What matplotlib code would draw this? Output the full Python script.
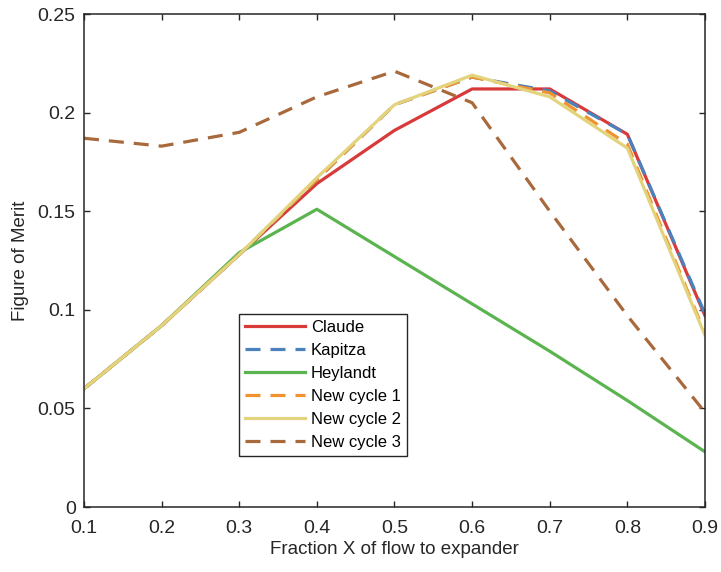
import numpy as np
import matplotlib
matplotlib.use("Agg")
import matplotlib.pyplot as plt

# fraction of flow sent to the expander
x = [0.1, 0.2, 0.3, 0.4, 0.5, 0.6, 0.7, 0.8, 0.9]

claude = [0.060, 0.092, 0.128, 0.164, 0.191, 0.212, 0.212, 0.189, 0.097]
kapitza = [0.060, 0.092, 0.128, 0.166, 0.204, 0.218, 0.211, 0.189, 0.098]
heylandt = [0.060, 0.092, 0.129, 0.151, 0.127, 0.103, 0.079, 0.054, 0.028]
new_cycle1 = [0.060, 0.092, 0.128, 0.166, 0.204, 0.218, 0.210, 0.184, 0.088]
new_cycle2 = [0.060, 0.092, 0.128, 0.167, 0.204, 0.219, 0.208, 0.182, 0.087]
new_cycle3 = [0.187, 0.183, 0.190, 0.208, 0.221, 0.205, 0.150, 0.097, 0.048]

labels = ["Claude", "Kapitza", "Heylandt", "New cycle 1", "New cycle 2", "New cycle 3"]

plt.rcParams['font.family'] = ['Liberation Sans', 'DejaVu Sans']

fig = plt.figure(figsize=(7.21, 5.72), dpi=100)
ax = fig.add_axes([0.1165, 0.1136, 0.8613, 0.8619])

lw = 2.3
dash = (10.8 / lw, 7.2 / lw)

ax.plot(x, claude, color='#d83a3a', lw=lw, label=labels[0])
ax.plot(x, kapitza, color='#4a82bd', lw=lw, dashes=dash, label=labels[1])
ax.plot(x, heylandt, color='#5bb450', lw=lw, label=labels[2])
ax.plot(x, new_cycle1, color='#f0922e', lw=lw, dashes=dash, label=labels[3])
ax.plot(x, new_cycle2, color='#e2d37c', lw=lw, label=labels[4])
ax.plot(x, new_cycle3, color='#a8693c', lw=lw, dashes=dash, label=labels[5])

ax.set_xlim(0.1, 0.9)
ax.set_ylim(0, 0.25)
ax.set_xticks(np.arange(0.1, 0.91, 0.1))
ax.set_yticks(np.arange(0, 0.251, 0.05))
ax.set_xticklabels(['0.1', '0.2', '0.3', '0.4', '0.5', '0.6', '0.7', '0.8', '0.9'])
ax.set_yticklabels(['0', '0.05', '0.1', '0.15', '0.2', '0.25'])

ax.tick_params(direction='in', length=4.3, width=1.0, top=True, right=True,
               labelsize=14, colors='#262626')
ax.tick_params(axis='x', pad=9)
ax.tick_params(axis='y', pad=6)
for s in ax.spines.values():
    s.set_linewidth(1.1)
    s.set_color('#262626')

ax.set_xlabel("Fraction X of flow to expander", fontsize=13.5, color='#262626', labelpad=3)
ax.set_ylabel("Figure of Merit", fontsize=13.5, color='#262626', labelpad=6)

leg = ax.legend(loc='upper left', bbox_to_anchor=(0.25, 0.391), borderaxespad=0,
                fontsize=12, fancybox=False, framealpha=1, edgecolor='#262626',
                handlelength=3.6, handletextpad=0.35, labelspacing=0.48,
                borderpad=0.35)
leg.get_frame().set_linewidth(1.0)

fig.savefig("out.png", dpi=100)
